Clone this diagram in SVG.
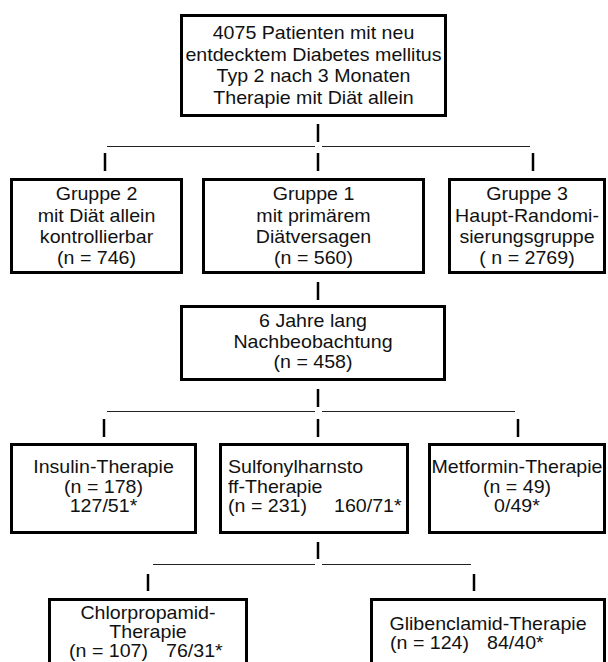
<svg xmlns="http://www.w3.org/2000/svg" width="608" height="662" viewBox="0 0 608 662">
<style>
.box{fill:#fff;stroke:#000;stroke-width:3}
text{font-family:"Liberation Sans",Arial,sans-serif;font-size:18px;fill:#111}
.c{text-anchor:middle}
.bar{stroke:#000;stroke-width:2.5}
.hl{stroke:#222;stroke-width:1.2}
</style>
<rect width="608" height="662" fill="#fff"/>
<g id="connectors">
<line class="bar" x1="318" y1="124" x2="318" y2="142"/>
<line class="hl" x1="107" y1="146.5" x2="315" y2="146.5"/>
<line class="hl" x1="322" y1="146.5" x2="530" y2="146.5"/>
<line class="bar" x1="105" y1="153" x2="105" y2="171"/>
<line class="bar" x1="318" y1="153" x2="318" y2="171"/>
<line class="bar" x1="533" y1="153" x2="533" y2="171"/>
<line class="bar" x1="318" y1="282" x2="318" y2="300"/>
<line class="bar" x1="318" y1="389" x2="318" y2="407"/>
<line class="hl" x1="107" y1="411.5" x2="315" y2="411.5"/>
<line class="hl" x1="322" y1="411.5" x2="515" y2="411.5"/>
<line class="bar" x1="104" y1="419" x2="104" y2="437"/>
<line class="bar" x1="318" y1="419" x2="318" y2="437"/>
<line class="bar" x1="518" y1="419" x2="518" y2="437"/>
<line class="bar" x1="318" y1="542" x2="318" y2="559"/>
<line class="hl" x1="153" y1="564.5" x2="315" y2="564.5"/>
<line class="hl" x1="322" y1="564.5" x2="471" y2="564.5"/>
<line class="bar" x1="148" y1="574" x2="148" y2="591"/>
<line class="bar" x1="474" y1="574" x2="474" y2="591"/>
</g>
<g id="n_top">
<rect class="box" x="181.5" y="15.5" width="264" height="100"/>
<text class="c" transform="translate(313.5 39) scale(1.09 1)">4075 Patienten mit neu</text>
<text class="c" transform="translate(313.5 60.5) scale(1.09 1)">entdecktem Diabetes mellitus</text>
<text class="c" transform="translate(313.5 82) scale(1.09 1)">Typ 2 nach 3 Monaten</text>
<text class="c" transform="translate(313.5 103.5) scale(1.09 1)">Therapie mit Diät allein</text>
</g>
<g id="n_g2">
<rect class="box" x="11.5" y="179.5" width="170" height="93"/>
<text class="c" transform="translate(96.5 200) scale(1.09 1)">Gruppe 2</text>
<text class="c" transform="translate(96.5 221.5) scale(1.09 1)">mit Diät allein</text>
<text class="c" transform="translate(96.5 243) scale(1.09 1)">kontrollierbar</text>
<text class="c" transform="translate(96.5 264) scale(1.09 1)">(n = 746)</text>
</g>
<g id="n_g1">
<rect class="box" x="203.5" y="179.5" width="220" height="93"/>
<text class="c" transform="translate(313.5 200) scale(1.09 1)">Gruppe 1</text>
<text class="c" transform="translate(313.5 221.5) scale(1.09 1)">mit primärem</text>
<text class="c" transform="translate(313.5 243) scale(1.09 1)">Diätversagen</text>
<text class="c" transform="translate(313.5 264) scale(1.09 1)">(n = 560)</text>
</g>
<g id="n_g3">
<rect class="box" x="449.5" y="179.5" width="155" height="93"/>
<text class="c" transform="translate(527 200) scale(1.09 1)">Gruppe 3</text>
<text class="c" transform="translate(527 221.5) scale(1.09 1)">Haupt-Randomi-</text>
<text class="c" transform="translate(527 243) scale(1.09 1)">sierungsgruppe</text>
<text class="c" transform="translate(527 264) scale(1.09 1)">( n = 2769)</text>
</g>
<g id="n_follow">
<rect class="box" x="181.5" y="306.5" width="263" height="73"/>
<text class="c" transform="translate(313 327) scale(1.09 1)">6 Jahre lang</text>
<text class="c" transform="translate(313 348) scale(1.09 1)">Nachbeobachtung</text>
<text class="c" transform="translate(313 368) scale(1.09 1)">(n = 458)</text>
</g>
<g id="n_insulin">
<rect class="box" x="11.5" y="444.5" width="184" height="88"/>
<text class="c" transform="translate(103.5 473) scale(1.09 1)">Insulin-Therapie</text>
<text class="c" transform="translate(103.5 493) scale(1.09 1)">(n = 178)</text>
<text class="c" transform="translate(103.5 512) scale(1.09 1)">127/51*</text>
</g>
<g id="n_sulfo">
<rect class="box" x="220.5" y="444.5" width="187" height="88"/>
<text transform="translate(228 473) scale(1.09 1)">Sulfonylharnsto</text>
<text transform="translate(228 493) scale(1.09 1)">ff-Therapie</text>
<text transform="translate(228 512) scale(1.09 1)">(n = 231)</text>
<text transform="translate(334 512) scale(1.09 1)">160/71*</text>
</g>
<g id="n_metformin">
<rect class="box" x="429.5" y="444.5" width="175" height="88"/>
<text class="c" transform="translate(517 473) scale(1.09 1)">Metformin-Therapie</text>
<text class="c" transform="translate(517 493) scale(1.09 1)">(n = 49)</text>
<text class="c" transform="translate(517 512) scale(1.09 1)">0/49*</text>
</g>
<g id="n_chlor">
<rect class="box" x="49.5" y="599.5" width="197" height="80"/>
<text class="c" transform="translate(148 619) scale(1.09 1)">Chlorpropamid-</text>
<text class="c" transform="translate(148 638) scale(1.09 1)">Therapie</text>
<text transform="translate(69 657) scale(1.09 1)">(n = 107)</text>
<text transform="translate(166 657) scale(1.09 1)">76/31*</text>
</g>
<g id="n_gliben">
<rect class="box" x="371.5" y="599.5" width="233" height="80"/>
<text class="c" transform="translate(488 630) scale(1.09 1)">Glibenclamid-Therapie</text>
<text transform="translate(390 649) scale(1.09 1)">(n = 124)</text>
<text transform="translate(487 649) scale(1.09 1)">84/40*</text>
</g>
</svg>
